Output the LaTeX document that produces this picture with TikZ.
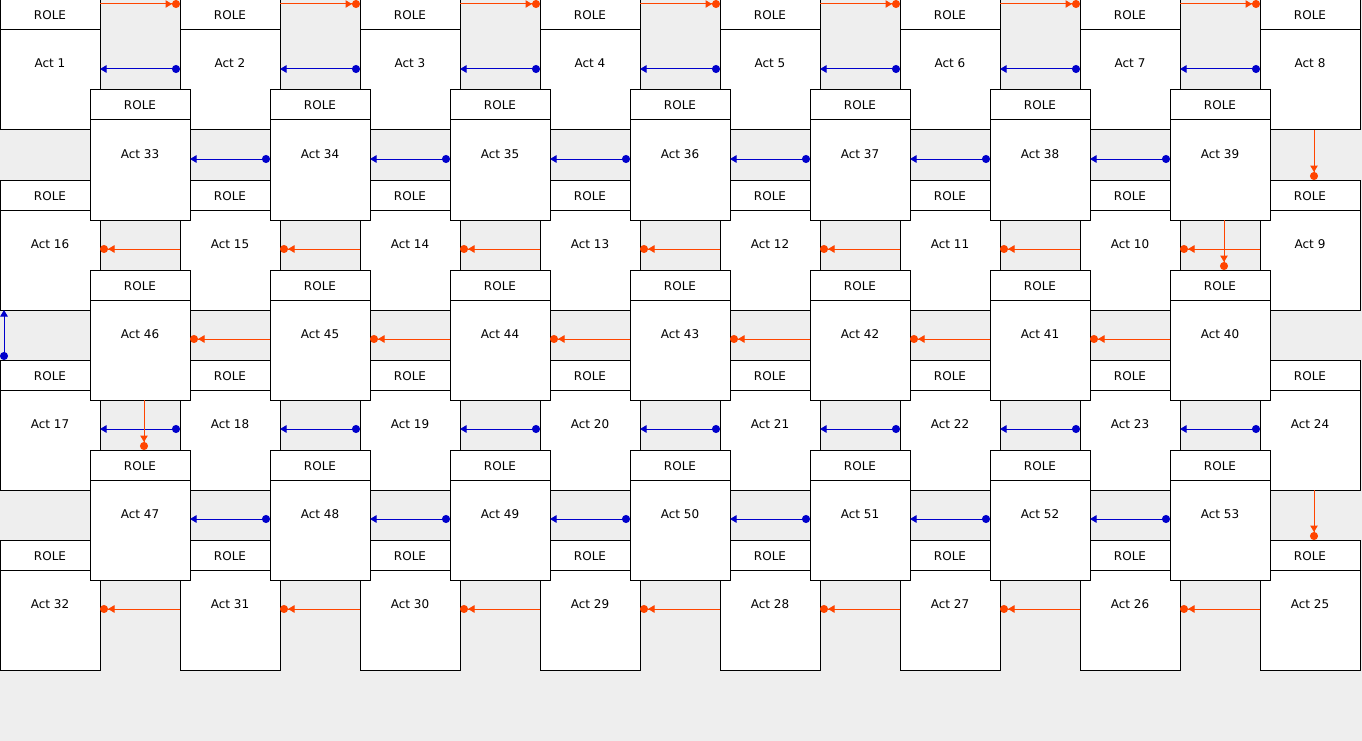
\documentclass[tikz,border=0pt]{standalone}
\usepackage{fontspec}
\setsansfont{DejaVu Sans}
\usetikzlibrary{arrows.meta,positioning}
\definecolor{flowBg}{HTML}{EEEEEE}
\definecolor{flowOrange}{HTML}{FF4500}
\definecolor{flowBlue}{HTML}{0000CC}
\tikzset{
  every picture/.style={font=\sffamily\fontsize{12}{14}\selectfont},
  role box/.style={draw=black, line width=1pt, fill=white, outer sep=0pt,
    inner sep=0pt, minimum width=100pt, text height=20pt, text depth=10pt,
    anchor=north west},
  act box/.style={draw=black, line width=1pt, fill=white, outer sep=0pt,
    inner sep=0pt, minimum width=100pt, text height=38pt, text depth=62pt},
  flow fwd/.style={draw=flowOrange, line width=1pt,
    -{Triangle[length=6.5pt,width=7.5pt]Circle[length=8pt]}},
  flow back/.style={draw=flowBlue, line width=1pt,
    {Circle[length=8pt]}-{Triangle[length=6.5pt,width=7.5pt]}}
}

\begin{document}
\begin{tikzpicture}[x=1pt,y=-1pt]
  \fill[flowBg] (0,0) rectangle (1362,741);
  \useasboundingbox (0,0) rectangle (1362,741);
  % outer cards
  \foreach \r/\first/\dir in {0/1/1, 1/16/-1, 2/17/1, 3/32/-1}{
    \foreach \c in {0,...,7}{
      \pgfmathtruncatemacro\n{\first+\dir*\c}
      \node[role box] (role\n) at ({180*\c},{180*\r}) {ROLE};
      \node[act box, below=0pt of role\n] (act\n) {Act \n};
    }
  }
  % inner cards, drawn on top
  \foreach \r/\first/\dir in {0/33/1, 1/46/-1, 2/47/1}{
    \foreach \c in {0,...,6}{
      \pgfmathtruncatemacro\n{\first+\dir*\c}
      \node[role box] (role\n) at ({90+180*\c},{90+180*\r}) {ROLE};
      \node[act box, below=0pt of role\n] (act\n) {Act \n};
    }
  }
  % flows along the rows
  \foreach \k in {1,...,7}{
    \pgfmathtruncatemacro\m{\k+1}
    \draw[flow fwd] ([yshift=-4pt]role\k.north east) -- ([yshift=-4pt]role\m.north west);
    \draw[flow back] ([yshift=11pt]act\m.west) -- ([yshift=11pt]act\k.east);
  }
  \foreach \k in {33,...,38,17,18,...,23,47,48,...,52}{
    \pgfmathtruncatemacro\m{\k+1}
    \draw[flow back] ([yshift=11pt]act\m.west) -- ([yshift=11pt]act\k.east);
  }
  \foreach \k in {9,...,15,40,41,...,45,25,26,...,31}{
    \pgfmathtruncatemacro\m{\k+1}
    \draw[flow fwd] ([yshift=11pt]act\k.west) -- ([yshift=11pt]act\m.east);
  }
  % flows between the rows
  \foreach \k/\m in {8/9, 39/40, 46/47, 24/25}
    \draw[flow fwd] ([xshift=4pt]act\k.south) -- ([xshift=4pt]role\m.north);
  \draw[flow back] ([xshift=4pt]role17.north west) -- ([xshift=4pt]act16.south west);
\end{tikzpicture}
\end{document}
